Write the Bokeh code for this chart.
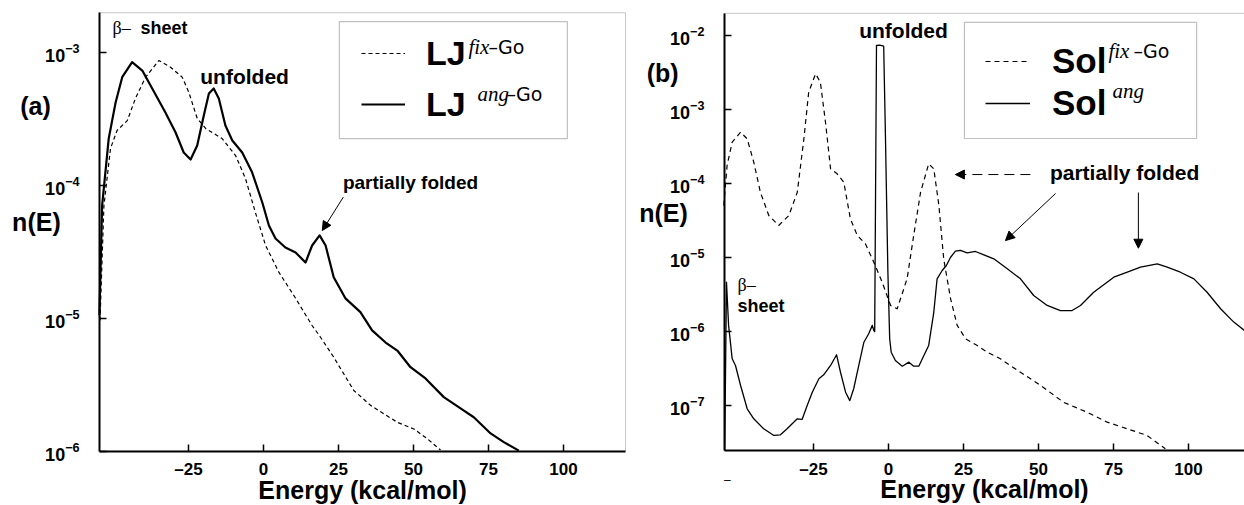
from bokeh.plotting import figure
from bokeh.layouts import row
from bokeh.models import (Range1d, FixedTicker, Label, Arrow, NormalHead,
                          BoxAnnotation, Legend, LegendItem)
from bokeh.embed import file_html
from bokeh.resources import INLINE

# ---------------- data ----------------
# panel (a)
lj_fix_E = [-54.5, -53.2, -51.0, -48.8, -45.4, -42.7, -39.3, -34.9, -31.0, -27.1,
            -24.9, -22.1, -19.3, -13.8, -9.3, -6.0, -2.7, 0.7, 5.1, 10.7,
            16.2, 19.0, 23.4, 30.1, 35.7, 44.6, 50.1, 54.6, 59.0]
lj_fix_n = [9.6e-6, 7.0e-5, 1.89e-4, 2.58e-4, 3.06e-4, 4.49e-4, 6.49e-4, 8.66e-4, 7.71e-4, 6.49e-4,
            5.0e-4, 3.18e-4, 2.67e-4, 2.24e-4, 1.67e-4, 1.12e-4, 6.23e-5, 3.52e-5, 2.22e-5, 1.41e-5,
            8.81e-6, 7.19e-6, 5.09e-6, 2.86e-6, 2.21e-6, 1.65e-6, 1.47e-6, 1.24e-6, 1.02e-6]

lj_ang_E = [-54.7, -53.8, -51.6, -49.3, -47.1, -43.8, -40.4, -37.1, -32.7, -29.3,
            -26.6, -24.3, -22.1, -19.9, -18.2, -16.6, -14.9, -12.7, -10.4, -7.1,
            -3.8, -0.4, 1.8, 4.0, 7.3, 10.7, 14.0, 16.2, 18.7, 20.7,
            23.4, 27.3, 32.3, 36.2, 40.7, 44.6, 49.0, 54.0, 60.1, 66.8,
            70.1, 75.7, 80.1, 85.1]
lj_ang_n = [1.05e-5, 7.0e-5, 2.24e-4, 4.19e-4, 6.49e-4, 8.41e-4, 7.28e-4, 5.33e-4, 3.52e-4, 2.49e-4,
            1.76e-4, 1.56e-4, 1.99e-4, 3.34e-4, 4.89e-4, 5.33e-4, 4.49e-4, 2.81e-4, 2.17e-4, 1.76e-4,
            1.25e-4, 7.41e-5, 4.98e-5, 3.97e-5, 3.40e-5, 3.12e-5, 2.62e-5, 3.52e-5, 4.19e-5, 3.52e-5,
            2.03e-5, 1.41e-5, 1.11e-5, 8.09e-6, 6.56e-6, 5.71e-6, 4.28e-6, 3.52e-6, 2.55e-6, 2.02e-6,
            1.80e-6, 1.36e-6, 1.17e-6, 1.01e-6]

# panel (b)
sol_fix_E = [-54.9, -53.8, -52.1, -49.3, -47.1, -44.9, -42.7, -39.9, -36.6, -33.2,
             -30.4, -28.2, -26.6, -24.3, -22.7, -21.0, -19.3, -17.1, -14.9, -12.7,
             -10.4, -7.7, -4.9, -2.1, 0.7, 2.9, 6.2, 8.4, 10.7, 13.4,
             15.1, 16.8, 18.4, 20.7, 22.9, 25.7, 29.6, 32.9, 37.3, 44.0,
             50.7, 58.4, 66.2, 72.9, 79.6, 86.2, 92.3]
sol_fix_n = [5.07e-5, 1.76e-4, 3.65e-4, 4.98e-4, 4.05e-4, 1.95e-4, 7.67e-5, 3.71e-5, 2.72e-5, 3.71e-5,
             7.67e-5, 4.05e-4, 1.73e-3, 3.07e-3, 2.36e-3, 6.79e-4, 1.59e-4, 1.36e-4, 1.05e-4, 3.35e-5,
             1.99e-5, 1.54e-5, 8.67e-6, 4.65e-6, 2.25e-6, 2.03e-6, 5.16e-6, 1.99e-5, 7.67e-5, 1.86e-4,
             1.59e-4, 5.07e-5, 9.63e-6, 2.77e-6, 1.21e-6, 7.96e-7, 6.47e-7, 5.25e-7, 4.27e-7, 2.81e-7,
             1.86e-7, 1.10e-7, 8.09e-8, 5.93e-8, 4.82e-8, 3.92e-8, 2.59e-8]

sol_ang_E = [-54.6, -54.0, -53.3, -52.1, -51.0, -49.3, -47.1, -44.9, -41.6, -38.2,
             -36.0, -33.8, -30.4, -28.8, -27.1, -25.4, -23.2, -21.6, -19.3, -17.3,
             -16.0, -14.3, -12.9, -11.6, -9.9, -8.2, -6.6, -5.4, -4.9, -4.6,
             -4.0, -2.9, -1.6, -1.0, -0.2, 0.4, 0.9, 2.3, 4.6, 6.8,
             8.4, 10.1, 11.8, 13.4, 15.1, 16.2, 17.9, 19.3, 20.7, 22.3,
             24.0, 26.2, 29.0, 31.8, 35.1, 39.6, 44.0, 48.4, 52.9, 57.3,
             61.2, 64.0, 68.4, 75.1, 79.6, 84.0, 89.6, 92.9, 97.3, 101.8,
             106.2, 110.7, 115.1, 118.7]
sol_ang_n = [2.45e-8, 4.65e-6, 1.21e-6, 4.27e-7, 3.47e-7, 1.86e-7, 9.0e-8, 6.59e-8, 4.82e-8, 3.92e-8,
             4.0e-8, 4.82e-8, 6.59e-8, 6.45e-8, 9.97e-8, 1.51e-7, 2.29e-7, 2.59e-7, 3.47e-7, 4.84e-7,
             2.81e-7, 1.51e-7, 1.16e-7, 1.68e-7, 3.47e-7, 7.16e-7, 9.31e-7, 1.21e-6, 1.03e-6, 1.0e-6,
             7.41e-3, 7.5e-3, 7.26e-3, 4.05e-4, 6.34e-6, 7.96e-7, 5.25e-7, 4.05e-7, 3.39e-7, 3.85e-7,
             3.39e-7, 3.39e-7, 4.73e-7, 6.47e-7, 1.82e-6, 5.16e-6, 6.69e-6, 7.82e-6, 1.01e-5, 1.22e-5,
             1.25e-5, 1.16e-5, 1.21e-5, 1.09e-5, 9.63e-6, 7.05e-6, 5.16e-6, 3.07e-6, 2.25e-6, 1.92e-6,
             1.92e-6, 2.25e-6, 3.40e-6, 5.43e-6, 6.34e-6, 7.41e-6, 8.24e-6, 7.41e-6, 6.34e-6, 5.16e-6,
             3.40e-6, 2.03e-6, 1.34e-6, 1.03e-6]

x_ticks = [-25, 0, 25, 50, 75, 100]
y_ticks_a = [1e-6, 1e-5, 1e-4, 1e-3]
y_ticks_b = [1e-7, 1e-6, 1e-5, 1e-4, 1e-3, 1e-2]

FONT = "Liberation Sans"


def make_fig(width, view_x, view_y, box_x, box_y, yticks, box_right=None):
    """Frame covers the whole canvas; axes are drawn at the panel's box edges."""
    p = figure(width=width, height=505, x_range=Range1d(*view_x), y_range=Range1d(*view_y),
               y_axis_type="log", output_backend="svg", toolbar_location=None,
               min_border_left=0, min_border_right=0, min_border_top=0, min_border_bottom=0)
    p.xgrid.visible = False
    p.ygrid.visible = False
    p.background_fill_color = "white"
    p.border_fill_color = "white"
    p.outline_line_color = None
    p.add_layout(BoxAnnotation(left=box_x[0], right=box_right if box_right else box_x[1],
                               bottom=box_y[0], top=box_y[1], fill_alpha=0,
                               line_color="#444444", line_width=1, level="underlay"))
    p.xaxis.ticker = FixedTicker(ticks=x_ticks)
    p.xaxis.major_label_overrides = {-25: "\u201325"}
    p.xaxis.fixed_location = box_y[0]
    p.xaxis.bounds = box_x
    p.yaxis.ticker = FixedTicker(ticks=yticks)
    p.yaxis.fixed_location = box_x[0]
    p.yaxis.bounds = box_y
    for ax in (p.xaxis[0], p.yaxis[0]):
        ax.axis_line_width = 2
        ax.axis_line_color = "black"
        ax.major_tick_in = 7
        ax.major_tick_out = 0
        ax.major_tick_line_width = 1.5
        ax.major_tick_line_color = "black"
        ax.minor_tick_line_color = None
        ax.major_label_text_font = FONT
        ax.major_label_text_font_style = "bold"
        ax.major_label_text_color = "black"
    p.xaxis.major_label_text_font_size = "17px"
    p.xaxis.major_label_standoff = 9
    p.yaxis.major_label_text_font_size = "18px"
    p.yaxis.major_label_standoff = 20
    return p


def lab(p, x, y, text, size, style="bold", font=FONT, align="left", baseline="middle"):
    p.add_layout(Label(x=x, y=y, text=text, text_font=font, text_font_size=f"{size}px",
                       text_font_style=style, text_align=align, text_baseline=baseline,
                       text_color="black"))


def arrow(p, x0, y0, x1, y1, dash="solid"):
    p.add_layout(Arrow(end=NormalHead(size=9, fill_color="black", line_color="black", line_width=1),
                       x_start=x0, y_start=y0, x_end=x1, y_end=y1,
                       line_color="black", line_width=1, line_dash=dash))


# ---------------- panel (a) ----------------
pa = make_fig(632, (-87.67, 123.0), (3.905e-7, 2.447e-3),
              (-54.67, 120.67), (1.0e-6, 1.98e-3), y_ticks_a)
ra_fix = pa.line(lj_fix_E, lj_fix_n, line_color="black", line_width=1.2, line_dash="4 3",
                 line_join="round")
ra_ang = pa.line(lj_ang_E, lj_ang_n, line_color="black", line_width=2.2, line_join="round")

pa.add_layout(BoxAnnotation(left=25.3, right=101.3, top=1.70e-3, bottom=2.24e-4,
                            fill_alpha=0, line_color="#333333", line_width=1.2))
leg_a = Legend(items=[LegendItem(label="LJ", renderers=[ra_fix]),
                      LegendItem(label="LJ", renderers=[ra_ang])],
               location=(361, 381), border_line_color=None, background_fill_alpha=0,
               label_text_font=FONT, label_text_font_style="bold", label_text_font_size="34px",
               label_text_color="black",
               glyph_width=44, glyph_height=40, label_height=40, label_standoff=21,
               spacing=11, padding=10, margin=0)
pa.add_layout(leg_a)
lab(pa, 68.3, 1.09e-3, "fix", 21, style="italic", font="Liberation Serif", baseline="alphabetic")
lab(pa, 75.0, 1.09e-3, "\u2013Go", 19, style="normal", font="DejaVu Sans", baseline="alphabetic")
lab(pa, 71.3, 4.81e-4, "ang", 21, style="italic", font="Liberation Serif", baseline="alphabetic")
lab(pa, 81.0, 4.81e-4, "\u2013Go", 19, style="normal", font="DejaVu Sans", baseline="alphabetic")

lab(pa, -50.3, 1.53e-3, "\u03b2\u2013", 18, style="normal", font="Liberation Serif")
lab(pa, -41.0, 1.53e-3, "sheet", 18)
lab(pa, -6.3, 6.56e-4, "unfolded", 21, align="center")
lab(pa, 49.0, 1.05e-4, "partially folded", 19, align="center")
arrow(pa, 26.6, 8.13e-5, 19.6, 4.56e-5)
lab(pa, -76.0, 3.91e-4, "(a)", 25, align="center")
lab(pa, -75.7, 5.25e-5, "n(E)", 25, align="center")
lab(pa, 33.0, 5.15e-7, "Energy (kcal/mol)", 25, align="center")

# ---------------- panel (b) ----------------
pb = make_fig(612, (-85.33, 118.67), (4.42e-9, 3.013e-2),
              (-54.67, 118.67), (2.45e-8, 2.02e-2), y_ticks_b, box_right=119.5)
rb_fix = pb.line(sol_fix_E, sol_fix_n, line_color="black", line_width=1.2, line_dash="5 4",
                 line_join="round")
rb_ang = pb.line(sol_ang_E, sol_ang_n, line_color="black", line_width=1.3, line_join="round")

pb.add_layout(BoxAnnotation(left=25.3, right=102.7, top=1.52e-2, bottom=4.09e-4,
                            fill_alpha=0, line_color="#333333", line_width=1.2))
leg_b = Legend(items=[LegendItem(label="Sol", renderers=[rb_fix]),
                      LegendItem(label="Sol", renderers=[rb_ang])],
               location=(353, 382), border_line_color=None, background_fill_alpha=0,
               label_text_font=FONT, label_text_font_style="bold", label_text_font_size="35px",
               label_text_color="black",
               glyph_width=45, glyph_height=40, label_height=40, label_standoff=22,
               spacing=2, padding=10, margin=0)
pb.add_layout(leg_b)
lab(pb, 73.3, 6.34e-3, "fix", 21, style="italic", font="Liberation Serif", baseline="alphabetic")
lab(pb, 81.7, 6.34e-3, "\u2013Go", 19, style="normal", font="DejaVu Sans", baseline="alphabetic")
lab(pb, 74.7, 1.82e-3, "ang", 21, style="italic", font="Liberation Serif", baseline="alphabetic")

lab(pb, 5.0, 1.18e-2, "unfolded", 21, align="center")
lab(pb, -50.3, 4.2e-6, "\u03b2\u2013", 18, style="normal", font="Liberation Serif")
lab(pb, -50.3, 2.18e-6, "sheet", 18)
lab(pb, 78.7, 1.42e-4, "partially folded", 21, align="center")
arrow(pb, 47.3, 1.33e-4, 22.3, 1.33e-4, dash="10 6")
arrow(pb, 55.7, 7.37e-5, 39.0, 1.70e-5)
arrow(pb, 83.3, 7.6e-5, 83.3, 1.34e-5)
lab(pb, -75.3, 3.10e-3, "(b)", 25, align="center")
lab(pb, -75.0, 4.07e-5, "n(E)", 25, align="center")
lab(pb, 32.0, 7.28e-9, "Energy (kcal/mol)", 25, align="center")
lab(pb, -53.7, 9.64e-9, "\u2013", 12, style="normal", align="center")

layout = row(pa, pb, spacing=0)
open("out.html", "w").write(file_html(layout, INLINE))
